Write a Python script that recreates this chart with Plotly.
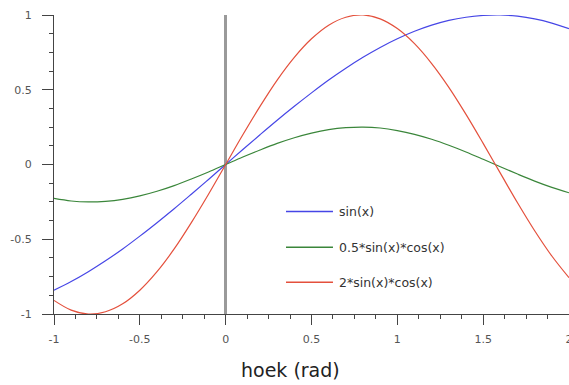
import plotly.graph_objects as go

x_vals = [-1.0, -0.9, -0.8, -0.7, -0.6, -0.5, -0.4, -0.3, -0.2, -0.1, 0.0,
          0.1, 0.2, 0.3, 0.4, 0.5, 0.6, 0.7, 0.8, 0.9, 1.0,
          1.1, 1.2, 1.3, 1.4, 1.5, 1.6, 1.7, 1.8, 1.9, 2.0]

sin_vals = [-0.841, -0.783, -0.717, -0.644, -0.565, -0.479, -0.389, -0.296, -0.199, -0.100, 0.0,
            0.100, 0.199, 0.296, 0.389, 0.479, 0.565, 0.644, 0.717, 0.783, 0.841,
            0.891, 0.932, 0.964, 0.985, 0.997, 1.000, 0.992, 0.974, 0.946, 0.909]

half_sc_vals = [-0.227, -0.244, -0.250, -0.246, -0.233, -0.210, -0.179, -0.141, -0.097, -0.050, 0.0,
                0.050, 0.097, 0.141, 0.179, 0.210, 0.233, 0.246, 0.250, 0.244, 0.227,
                0.202, 0.169, 0.129, 0.084, 0.035, -0.015, -0.064, -0.111, -0.153, -0.189]

two_sc_vals = [-0.909, -0.974, -1.000, -0.985, -0.932, -0.841, -0.717, -0.565, -0.389, -0.199, 0.0,
               0.199, 0.389, 0.565, 0.717, 0.841, 0.932, 0.985, 1.000, 0.974, 0.909,
               0.808, 0.675, 0.516, 0.335, 0.141, -0.058, -0.256, -0.443, -0.612, -0.757]

series_names = ["sin(x)", "0.5*sin(x)*cos(x)", "2*sin(x)*cos(x)"]
series_vals = [sin_vals, half_sc_vals, two_sc_vals]
series_colors = ["#4646e6", "#3a863a", "#e4503c"]

x_ticks = [-1, -0.5, 0, 0.5, 1, 1.5, 2]
x_ticktext = ["-1", "-0.5", "0", "0.5", "1", "1.5", "2"]
y_ticks = [-1, -0.5, 0, 0.5, 1]
y_ticktext = ["-1", "-0.5", "0", "0.5", "1"]
x_title = "hoek (rad)"

fig = go.Figure()
for name, vals, col in zip(series_names, series_vals, series_colors):
    fig.add_trace(go.Scatter(
        x=x_vals, y=vals, mode="lines", name=name,
        line=dict(color=col, width=1.2, shape="spline"),
        showlegend=False, cliponaxis=False, hoverinfo="skip",
    ))

# manual legend (longer sample lines than plotly's built-in legend)
legend_rows_y = [0.343, 0.223, 0.106]
shapes = []
annotations = []
for name, col, ly in zip(series_names, series_colors, legend_rows_y):
    shapes.append(dict(type="line", xref="paper", yref="paper",
                       x0=0.4505, x1=0.5417, y0=ly, y1=ly,
                       line=dict(color=col, width=1.4)))
    annotations.append(dict(text=name, xref="paper", yref="paper",
                            x=0.5495, y=ly, xanchor="left", yanchor="middle",
                            showarrow=False,
                            font=dict(size=12.5, color="#333", family="DejaVu Sans")))

annotations.append(dict(
    text=x_title, x=0.379, xref="x", y=-0.187, yref="paper",
    xanchor="center", yanchor="middle", showarrow=False,
    font=dict(size=19, color="#222", family="DejaVu Sans"),
))

fig.update_layout(
    width=569, height=385,
    margin=dict(l=54, r=0, t=15, b=71, pad=0, autoexpand=False),
    plot_bgcolor="white", paper_bgcolor="white",
    font=dict(family="DejaVu Sans", size=11, color="#444"),
    showlegend=False,
    hovermode=False,
    shapes=shapes,
    annotations=annotations,
    xaxis=dict(
        range=[-1, 2], showgrid=False, automargin=False,
        zeroline=True, zerolinecolor="#9a9a9a", zerolinewidth=2.5,
        showline=True, linecolor="#444", linewidth=1,
        tickmode="array", tickvals=x_ticks, ticktext=x_ticktext,
        ticks="outside", ticklen=10, tickcolor="#444",
        ticklabelstandoff=5, ticklabeloverflow="allow",
        minor=dict(dtick=0.125, ticks="outside", ticklen=4, tickcolor="#444", showgrid=False),
        tickfont=dict(size=11, color="#555"),
    ),
    yaxis=dict(
        range=[-1, 1], showgrid=False, zeroline=False, automargin=False,
        showline=True, linecolor="#444", linewidth=1,
        tickmode="array", tickvals=y_ticks, ticktext=y_ticktext,
        ticks="outside", ticklen=11, tickcolor="#444",
        ticklabelstandoff=8,
        minor=dict(dtick=0.125, ticks="outside", ticklen=4, tickcolor="#444", showgrid=False),
        tickfont=dict(size=11, color="#555"),
    ),
)

fig.write_html(
    "out.html",
    config={"displayModeBar": False, "staticPlot": True},
    post_script="document.body.style.margin='0';document.body.style.overflow='hidden';",
)
